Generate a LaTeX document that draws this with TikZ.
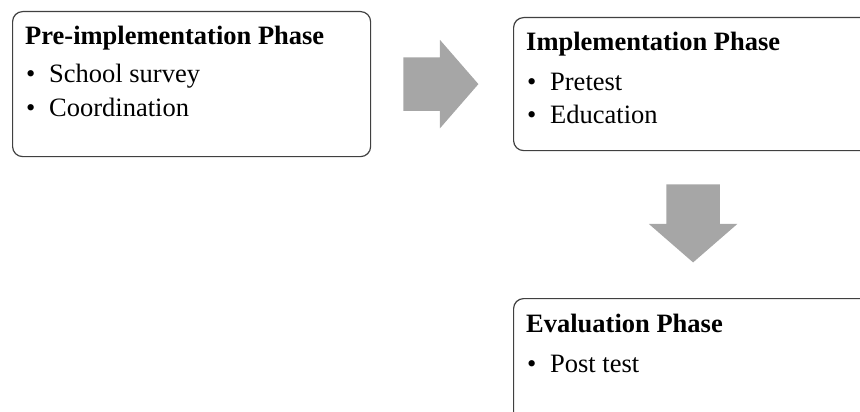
\documentclass[tikz,border=0pt]{standalone}
\usepackage{fontspec}
\setmainfont{Liberation Serif}
\usetikzlibrary{positioning, calc, shapes.arrows}
\tikzset{
	phasebox/.style={draw=black!75, line width=1.2pt, rounded corners=10pt, minimum width=358pt, inner sep=0pt, anchor=north west}
}
\tikzset{
	phasetitle/.style={font=\fontsize{26.5}{30}\selectfont\bfseries, anchor=base west, inner sep=0pt}
}
\tikzset{
	phaseitem/.style={font=\fontsize{26.5}{30}\selectfont, anchor=base west, inner sep=0pt}
}
\tikzset{
	blockarrow/.style={single arrow, draw=none, fill=black!35, inner xsep=0pt, inner ysep=26.5pt, single arrow head extend=17.5pt, single arrow tip angle=98, anchor=tail}
}
\newcommand{\bul}[1]{\makebox[23pt][l]{\textbullet}#1}

\begin{document}
\begin{tikzpicture}[x=1pt, y=-1pt]
      \useasboundingbox (0,0) rectangle (860,412);
      \clip (0,0) rectangle (860,412);
      \node[phasebox, minimum height=145pt] (pre) at (12,11) {};
      \node[phasebox, minimum height=133pt, minimum width=359pt] (impl) at (513,17) {};
      \node[phasebox, minimum height=130pt] (eval) at (513,298) {};
      \node[blockarrow, minimum height=75pt] (toimpl) at ($(pre.east)+(32,0)$) {};
      \node[blockarrow, minimum height=78pt, rotate=-90] (toeval) at ($(impl.south)+(0,33)$) {};
      \foreach \b/\t in {pre/Pre-implementation Phase, impl/Implementation Phase, eval/Evaluation Phase}
        \node[phasetitle] (\b-title) at ($(\b.north west)+(13,34)$) {\t};
      \foreach \b/\n/\y/\t in {
        pre/1/72/School survey, pre/2/106/Coordination,
        impl/1/74/Pretest, impl/2/106/Education,
        eval/1/74/Post test}
        \node[phaseitem] (\b-item\n) at ($(\b.north west)+(14,\y)$) {\bul{\t}};
    \end{tikzpicture}
\end{document}
